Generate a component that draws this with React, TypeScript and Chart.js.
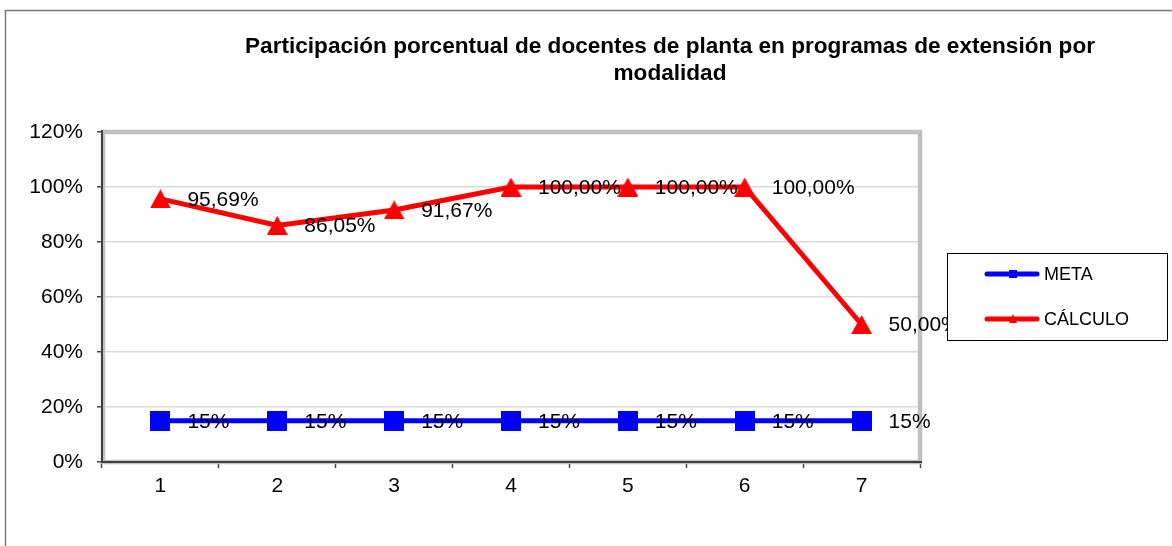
import React, { useEffect, useRef } from 'react';
import { Chart, registerables } from 'chart.js';

Chart.register(...registerables);

const categories = ['1', '2', '3', '4', '5', '6', '7'];
const metaValues = [15, 15, 15, 15, 15, 15, 15];
const calculoValues = [95.69, 86.05, 91.67, 100, 100, 100, 50];
const metaLabels = ['15%', '15%', '15%', '15%', '15%', '15%', '15%'];
const calculoLabels = ['95,69%', '86,05%', '91,67%', '100,00%', '100,00%', '100,00%', '50,00%'];
const yTickValues = [0, 20, 40, 60, 80, 100, 120];
const seriesNames = ['META', 'CÁLCULO'];
const titleLines = [
  'Participación porcentual de docentes de planta en programas de extensión por',
  'modalidad',
];

const FONT = "'Liberation Sans', Arial, sans-serif";
const BLUE = '#0000FF';
const RED = '#FF0000';

function makeSquare(size: number, color: string) {
  const c = document.createElement('canvas');
  c.width = size;
  c.height = size;
  const ctx = c.getContext('2d')!;
  ctx.fillStyle = color;
  ctx.fillRect(0, 0, size, size);
  return c;
}

function makeTriangle(w: number, h: number, color: string) {
  const c = document.createElement('canvas');
  c.width = w;
  c.height = h;
  const ctx = c.getContext('2d')!;
  ctx.fillStyle = color;
  ctx.beginPath();
  ctx.moveTo(w / 2, 0);
  ctx.lineTo(w, h);
  ctx.lineTo(0, h);
  ctx.closePath();
  ctx.fill();
  return c;
}

export default function App() {
  const ref = useRef<HTMLCanvasElement | null>(null);

  useEffect(() => {
    const canvas = ref.current!;
    const square = makeSquare(20, BLUE);
    const triangle = makeTriangle(21, 19, RED);

    const decor = {
      id: 'decor',
      beforeDraw(chart: any) {
        const ctx = chart.ctx as CanvasRenderingContext2D;
        ctx.save();
        ctx.fillStyle = '#ffffff';
        ctx.fillRect(0, 0, chart.width, chart.height);
        // outer chart border
        ctx.strokeStyle = '#7a7a7a';
        ctx.lineWidth = 1.5;
        ctx.beginPath();
        ctx.moveTo(5.5, chart.height + 5);
        ctx.lineTo(5.5, 10.5);
        ctx.lineTo(chart.width + 5, 10.5);
        ctx.stroke();
        // title
        ctx.fillStyle = '#000';
        ctx.font = `bold 22.6px ${FONT}`;
        ctx.textAlign = 'center';
        ctx.textBaseline = 'alphabetic';
        ctx.fillText(titleLines[0], 670, 53);
        ctx.fillText(titleLines[1], 670, 80);
        ctx.restore();
      },
      beforeDatasetsDraw(chart: any) {
        const ctx = chart.ctx as CanvasRenderingContext2D;
        const a = chart.chartArea;
        ctx.save();
        ctx.strokeStyle = '#C0C0C0';
        ctx.lineWidth = 4.5;
        ctx.strokeRect(a.left + 1, a.top, a.right - a.left - 1, a.bottom - a.top);
        ctx.strokeStyle = '#404040';
        ctx.lineWidth = 2;
        ctx.beginPath();
        ctx.moveTo(a.left, a.top - 2);
        ctx.lineTo(a.left, a.bottom);
        ctx.lineTo(a.right + 2, a.bottom);
        ctx.stroke();
        ctx.restore();
      },
      afterDatasetsDraw(chart: any) {
        const ctx = chart.ctx as CanvasRenderingContext2D;
        ctx.save();
        ctx.fillStyle = '#000';
        ctx.font = `21px ${FONT}`;
        ctx.textAlign = 'left';
        ctx.textBaseline = 'middle';
        const labelSets = [metaLabels, calculoLabels];
        labelSets.forEach((labels, di) => {
          const meta = chart.getDatasetMeta(di);
          meta.data.forEach((pt: any, i: number) => {
            ctx.fillText(labels[i], pt.x + 27, pt.y + 1);
          });
        });
        ctx.restore();
      },
      afterDraw(chart: any) {
        const ctx = chart.ctx as CanvasRenderingContext2D;
        ctx.save();
        // legend box
        ctx.fillStyle = '#fff';
        ctx.fillRect(947, 253, 221, 88);
        ctx.strokeStyle = '#000';
        ctx.lineWidth = 1;
        ctx.strokeRect(947.5, 253.5, 220, 87);
        const rows = [
          { name: seriesNames[0], color: BLUE, y: 274, kind: 'square' },
          { name: seriesNames[1], color: RED, y: 319, kind: 'triangle' },
        ];
        rows.forEach((r) => {
          ctx.strokeStyle = r.color;
          ctx.lineWidth = 5;
          ctx.lineCap = 'round';
          ctx.beginPath();
          ctx.moveTo(987, r.y);
          ctx.lineTo(1037, r.y);
          ctx.stroke();
          ctx.fillStyle = r.color;
          if (r.kind === 'square') {
            ctx.fillRect(1009, r.y - 4, 8, 8);
          } else {
            ctx.beginPath();
            ctx.moveTo(1013, r.y - 5);
            ctx.lineTo(1017, r.y + 4);
            ctx.lineTo(1009, r.y + 4);
            ctx.closePath();
            ctx.fill();
          }
          ctx.fillStyle = '#000';
          ctx.font = `18px ${FONT}`;
          ctx.textAlign = 'left';
          ctx.textBaseline = 'middle';
          ctx.fillText(r.name, 1044, r.y + 1);
        });
        ctx.restore();
      },
    };

    const chart = new Chart(canvas, {
      type: 'line',
      data: {
        labels: categories,
        datasets: [
          {
            label: seriesNames[0],
            data: metaValues,
            borderColor: BLUE,
            backgroundColor: BLUE,
            borderWidth: 5,
            pointStyle: square as any,
            pointRadius: 10,
            tension: 0,
            fill: false,
          },
          {
            label: seriesNames[1],
            data: calculoValues,
            borderColor: RED,
            backgroundColor: RED,
            borderWidth: 5,
            pointStyle: triangle as any,
            pointRadius: 10,
            tension: 0,
            fill: false,
          },
        ],
      },
      options: {
        animation: false,
        responsive: false,
        devicePixelRatio: 1,
        events: [],
        layout: { padding: { left: 0, top: 132, right: 252, bottom: 0 } },
        plugins: {
          legend: { display: false },
          title: { display: false },
          tooltip: { enabled: false },
        },
        scales: {
          x: {
            type: 'category',
            offset: true,
            grid: {
              offset: true,
              drawOnChartArea: false,
              drawTicks: true,
              tickLength: 6,
              tickColor: '#404040',
              tickWidth: 1.5,
            },
            border: { display: false },
            ticks: {
              color: '#000',
              font: { family: FONT, size: 21 },
              padding: 6,
              maxRotation: 0,
              autoSkip: false,
            },
            afterFit: (s: any) => {
              s.height = 84;
            },
          },
          y: {
            min: 0,
            max: 120,
            afterBuildTicks: (s: any) => {
              s.ticks = yTickValues.map((v) => ({ value: v }));
            },
            grid: {
              color: '#D9D9D9',
              lineWidth: 1.5,
              tickLength: 5,
              tickColor: '#404040',
              tickWidth: 1.5,
            },
            border: { display: false },
            ticks: {
              color: '#000',
              font: { family: FONT, size: 21 },
              padding: 14,
              callback: (v: any) => `${v}%`,
            },
            afterFit: (s: any) => {
              s.width = 102;
            },
          },
        },
      },
      plugins: [decor],
    });

    return () => chart.destroy();
  }, []);

  return (
    <div style={{ position: 'fixed', left: 0, top: 0, width: 1172, height: 546, background: '#fff' }}>
      <canvas ref={ref} width={1172} height={546} style={{ width: 1172, height: 546, display: 'block' }} />
    </div>
  );
}
